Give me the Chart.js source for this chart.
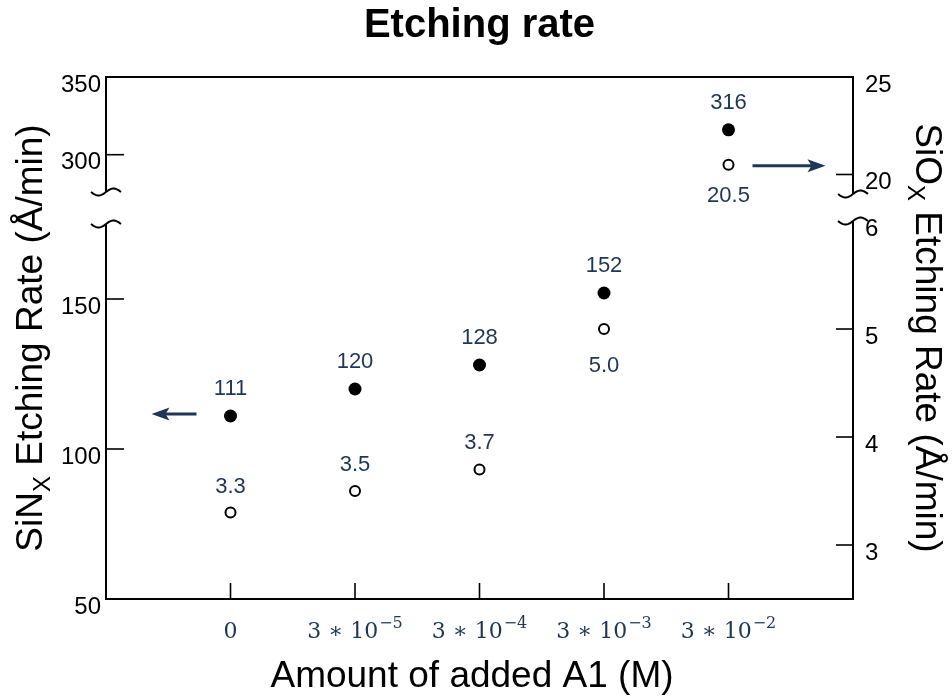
<!DOCTYPE html>
<html>
<head>
<meta charset="utf-8">
<title>Etching rate</title>
<script src="https://cdn.jsdelivr.net/npm/chart.js@4.4.1/dist/chart.umd.min.js"></script>
<style>
  html, body { margin: 0; padding: 0; background: #fff; }
</style>
</head>
<body>
<canvas id="chart" width="952" height="699"></canvas>
<script>
// values
const categories = ['0', '3*10^-5', '3*10^-4', '3*10^-3', '3*10^-2'];
const sinxRates = [111, 120, 128, 152, 316];    // left axis, filled dots
const sioxRates = [3.3, 3.5, 3.7, 5.0, 20.5];   // right axis, open dots
const leftTicks = [50, 100, 150, 300, 350];
const rightTicks = [3, 4, 5, 6, 20, 25];

// broken axes: each piece maps a value range onto part of the axis (0 = bottom, 1 = top)
const axisPieces = {
  y:  [{ from: 50, to: 175, lo: 0, hi: 0.7184 }, { from: 276, to: 350, lo: 0.7797, hi: 1 }],
  y1: [{ from: 2.5, to: 6, lo: 0, hi: 0.7241 }, { from: 19, to: 25, lo: 0.7759, hi: 1 }]
};

const NAVY = '#1f3654';
const SANS = '"Liberation Sans", Arial, sans-serif';
const SERIF = '"DejaVu Serif", "Liberation Serif", serif';

class BrokenAxis extends Chart.LinearScale {
  static id = 'broken';
  static defaults = {};

  getPixelForValue(value) {
    const pieces = axisPieces[this.id];
    let p = pieces[pieces.length - 1];
    for (const q of pieces) {
      if (value <= q.to) { p = q; break; }
    }
    const dec = p.lo + (value - p.from) / (p.to - p.from) * (p.hi - p.lo);
    return this.getPixelForDecimal(dec);
  }

  getValueForPixel(pixel) {
    const dec = this.getDecimalForPixel(pixel);
    const pieces = axisPieces[this.id];
    let p = pieces[pieces.length - 1];
    for (const q of pieces) {
      if (dec <= q.hi) { p = q; break; }
    }
    return p.from + (dec - p.lo) / (p.hi - p.lo) * (p.to - p.from);
  }
}
Chart.register(BrokenAxis);

function line(ctx, x0, y0, x1, y1) {
  ctx.beginPath();
  ctx.moveTo(x0, y0);
  ctx.lineTo(x1, y1);
  ctx.stroke();
}

function squiggle(ctx, xc, yc) {
  ctx.beginPath();
  for (let t = -1; t <= 1.001; t += 0.05) {
    const px = xc + 15 * t;
    const py = yc - 3.5 * Math.sin(Math.PI * t);
    if (t === -1) ctx.moveTo(px, py); else ctx.lineTo(px, py);
  }
  ctx.stroke();
}

function arrow(ctx, xFrom, xTo, y) {
  const dir = Math.sign(xTo - xFrom);
  ctx.beginPath();
  ctx.moveTo(xFrom, y);
  ctx.lineTo(xTo - dir * 12, y);
  ctx.stroke();
  ctx.beginPath();
  ctx.moveTo(xTo, y);
  ctx.lineTo(xTo - dir * 18, y - 6.5);
  ctx.lineTo(xTo - dir * 14, y);
  ctx.lineTo(xTo - dir * 18, y + 6.5);
  ctx.closePath();
  ctx.fill();
}

// rotated axis title with a subscript: [main, sub, rest]
function sideTitle(ctx, parts, cx, cy, rot) {
  const big = '37px ' + SANS, small = '24px ' + SANS;
  ctx.save();
  ctx.translate(cx, cy);
  ctx.rotate(rot);
  ctx.textBaseline = 'alphabetic';
  ctx.textAlign = 'left';
  ctx.font = big;
  const w1 = ctx.measureText(parts[0]).width;
  const w3 = ctx.measureText(parts[2]).width;
  ctx.font = small;
  const w2 = ctx.measureText(parts[1]).width;
  let x = -(w1 + w2 + w3) / 2;
  ctx.font = big;
  ctx.fillText(parts[0], x, 13);
  ctx.font = small;
  ctx.fillText(parts[1], x + w1, 21);
  ctx.font = big;
  ctx.fillText(parts[2], x + w1 + w2, 13);
  ctx.restore();
}

const decorations = {
  id: 'decorations',
  afterDraw(chart, args, opts) {
    const ctx = chart.ctx;
    const { left, right, top, bottom } = chart.chartArea;
    const xs = chart.scales.x, yl = chart.scales.y, yr = chart.scales.y1;
    ctx.save();

    // frame with broken side axes
    ctx.strokeStyle = '#000';
    ctx.fillStyle = '#000';
    ctx.lineWidth = 2;
    line(ctx, left - 1, top, right + 1, top);
    line(ctx, left - 1, bottom, right + 1, bottom);
    [[yl, left], [yr, right]].forEach(([scale, ax]) => {
      const pieces = axisPieces[scale.id];
      pieces.forEach((p, i) => {
        const y0 = scale.getPixelForValue(p.from);
        const y1 = scale.getPixelForValue(p.to);
        line(ctx, ax, y0, ax, y1);
        if (i > 0) squiggle(ctx, ax, y0);
        if (i < pieces.length - 1) squiggle(ctx, ax, y1);
      });
    });

    // inward tick marks
    ctx.lineWidth = 1.6;
    const onEdge = (id, v) => axisPieces[id].some(p => p.from === v || p.to === v);
    leftTicks.forEach(v => {
      if (onEdge('y', v)) return;
      const py = yl.getPixelForValue(v);
      line(ctx, left, py, left + 18, py);
    });
    rightTicks.forEach(v => {
      if (onEdge('y1', v)) return;
      const py = yr.getPixelForValue(v);
      line(ctx, right, py, right - 17, py);
    });
    categories.forEach((c, i) => {
      const px = xs.getPixelForValue(i);
      line(ctx, px, bottom, px, bottom - 16);
    });

    // category labels, written as 3 * 10^-n
    ctx.fillStyle = NAVY;
    ctx.textAlign = 'left';
    ctx.textBaseline = 'alphabetic';
    categories.forEach((c, i) => {
      const px = xs.getPixelForValue(i);
      const [base, exp] = c.split('^');
      const baseText = base.replace('*', ' \u2217 ');
      const expText = exp ? exp.replace('-', '\u2212') : '';
      ctx.font = '22px ' + SERIF;
      const wb = ctx.measureText(baseText).width;
      ctx.font = '16px ' + SERIF;
      const we = expText ? ctx.measureText(expText).width + 1 : 0;
      const x0 = px - (wb + we) / 2;
      ctx.font = '22px ' + SERIF;
      ctx.fillText(baseText, x0, bottom + 39);
      if (expText) {
        ctx.font = '16px ' + SERIF;
        ctx.fillText(expText, x0 + wb + 1, bottom + 29);
      }
    });

    // value labels next to the dots
    ctx.font = '22px ' + SANS;
    ctx.textAlign = 'center';
    ctx.textBaseline = 'middle';
    const m0 = chart.getDatasetMeta(0).data;
    const m1 = chart.getDatasetMeta(1).data;
    m0.forEach((pt, i) => ctx.fillText(String(sinxRates[i]), pt.x, pt.y + opts.sinxShift));
    m1.forEach((pt, i) => ctx.fillText(sioxRates[i].toFixed(1), pt.x, pt.y + opts.sioxShift[i]));

    // arrows pointing at the axis each series belongs to
    ctx.strokeStyle = NAVY;
    ctx.lineWidth = 2.8;
    const first = m0[0], last = m1[m1.length - 1];
    arrow(ctx, first.x - 34, first.x - 79, first.y - 2);
    arrow(ctx, last.x + 24, last.x + 97, last.y + 1);

    // axis titles
    ctx.fillStyle = '#000';
    const mid = (top + bottom) / 2;
    sideTitle(ctx, ['SiN', 'X', ' Etching Rate (\u00c5/min)'], 29, mid, -Math.PI / 2);
    sideTitle(ctx, ['SiO', 'X', ' Etching Rate (\u00c5/min)'], 929, mid, Math.PI / 2);
    ctx.font = '37px ' + SANS;
    ctx.textAlign = 'center';
    ctx.textBaseline = 'alphabetic';
    ctx.fillText('Amount of added A1 (M)', 472, bottom + 88);
    ctx.restore();
  }
};

const hiddenGrid = { display: false, drawTicks: false };

new Chart(document.getElementById('chart'), {
  type: 'scatter',
  data: {
    datasets: [
      {
        label: 'SiNx',
        data: sinxRates.map((v, i) => ({ x: i, y: v })),
        yAxisID: 'y',
        pointRadius: 6.5,
        pointBackgroundColor: '#000',
        pointBorderColor: '#000',
        pointBorderWidth: 0
      },
      {
        label: 'SiOx',
        data: sioxRates.map((v, i) => ({ x: i, y: v })),
        yAxisID: 'y1',
        pointRadius: 5,
        pointBackgroundColor: '#fff',
        pointBorderColor: '#000',
        pointBorderWidth: 2
      }
    ]
  },
  options: {
    responsive: false,
    animation: false,
    events: [],
    layout: { padding: 0 },
    scales: {
      x: {
        type: 'linear',
        min: -1,
        max: 5,
        afterBuildTicks: s => { s.ticks = categories.map((c, i) => ({ value: i })); },
        afterFit: s => { s.height = 100; },
        grid: hiddenGrid,
        border: { display: false },
        ticks: { display: false }
      },
      y: {
        type: 'broken',
        position: 'left',
        min: 50,
        max: 350,
        afterBuildTicks: s => { s.ticks = leftTicks.map(v => ({ value: v })); },
        afterFit: s => { s.width = 106; },
        grid: hiddenGrid,
        border: { display: false },
        ticks: {
          autoSkip: false,
          padding: 5,
          labelOffset: 8,
          color: '#000',
          font: { family: SANS, size: 24 },
          callback: v => String(v)
        }
      },
      y1: {
        type: 'broken',
        position: 'right',
        min: 2.5,
        max: 25,
        afterBuildTicks: s => { s.ticks = rightTicks.map(v => ({ value: v })); },
        afterFit: s => { s.width = 99; },
        grid: hiddenGrid,
        border: { display: false },
        ticks: {
          autoSkip: false,
          padding: 12,
          labelOffset: 8,
          color: '#000',
          font: { family: SANS, size: 24 },
          callback: v => String(v)
        }
      }
    },
    plugins: {
      legend: { display: false },
      tooltip: { enabled: false },
      title: {
        display: true,
        text: 'Etching rate',
        fullSize: false,
        color: '#000',
        font: { family: SANS, size: 40, weight: 'bold' },
        padding: { top: 2, bottom: 27 }
      },
      decorations: {
        sinxShift: -27,
        sioxShift: [-26, -26, -26, 37, 31]
      }
    }
  },
  plugins: [decorations]
});
</script>
</body>
</html>
